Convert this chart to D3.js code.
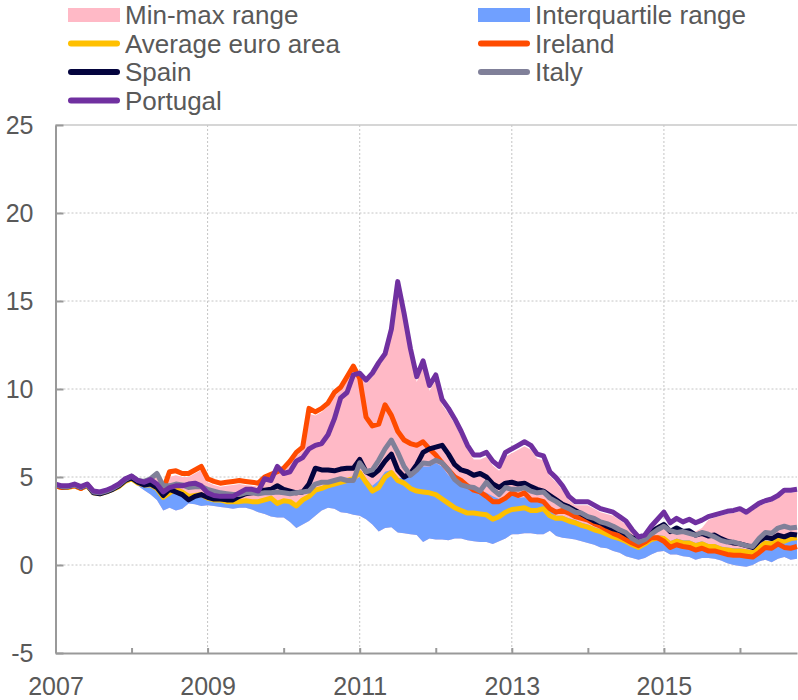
<!DOCTYPE html>
<html lang="en">
<head>
    <meta charset="utf-8">
    <title>Euro area sovereign yields</title>
    <script src="https://d3js.org/d3.v7.min.js"></script>
    <style>
        body { margin: 0; background: #fff; }
        text { font-family: "Liberation Sans", Arial, sans-serif; fill: #595959; }
    </style>
</head>
<body>
<script>
    // monthly observations, Jan 2007 to Oct 2016
    const startYear = 2007;

    const portugal = [
        4.6, 4.5, 4.5, 4.6, 4.45, 4.6, 4.2, 4.15, 4.25, 4.4,
        4.6, 4.9, 5.05, 4.8, 4.7, 4.85, 4.6, 4.15, 4.4, 4.5,
        4.5, 4.6, 4.65, 4.5, 4.1, 3.95, 3.9, 3.9, 3.9, 4.1,
        4.3, 4.3, 4.2, 4.9, 4.8, 5.6, 5.2, 5.3, 5.9, 6.1,
        6.6, 6.8, 6.9, 7.4, 8.3, 9.5, 9.8, 10.8, 10.9, 10.5,
        10.9, 11.5, 12.0, 13.4, 16.1, 14.3, 12.3, 10.7, 11.6, 10.2,
        10.8, 9.4, 8.9, 8.3, 7.6, 6.8, 6.25, 6.25, 6.4, 5.9,
        5.6, 6.4, 6.6, 6.8, 7.0, 6.8, 6.3, 6.2, 5.3, 4.95,
        4.5, 3.9, 3.6, 3.6, 3.6, 3.4, 3.2, 3.1, 3.0, 2.75,
        2.5, 2.0, 1.6, 1.7, 2.2, 2.6, 3.0, 2.4, 2.65, 2.45,
        2.6, 2.4, 2.55, 2.75, 2.85, 2.95, 3.05, 3.1, 3.2, 3.0,
        3.25, 3.5, 3.65, 3.75, 3.95, 4.25, 4.25, 4.3
    ];

    const ireland = [
        4.5, 4.4, 4.45, 4.5, 4.35, 4.55, 4.15, 4.1, 4.2, 4.35,
        4.55, 4.85, 5.0, 4.75, 4.7, 4.8, 4.5, 4.3, 5.3, 5.35,
        5.2, 5.2, 5.4, 5.6, 4.9, 4.75, 4.65, 4.7, 4.75, 4.8,
        4.75, 4.7, 4.65, 5.0, 5.15, 5.3, 5.5, 5.9, 6.4, 6.7,
        8.9, 8.7, 8.9, 9.2, 9.8, 10.1, 10.7, 11.3, 10.6, 8.4,
        7.9, 8.0, 9.1, 8.5, 7.6, 7.1, 6.9, 6.8, 7.0, 6.6,
        6.25, 5.8, 5.4, 5.0, 4.8, 4.5, 4.25, 4.15, 3.9, 3.6,
        3.6, 3.8, 4.1, 3.95, 4.1, 3.7, 3.7, 3.6, 3.2, 3.0,
        3.1, 2.95, 2.75, 2.65, 2.55, 2.35, 2.2, 2.0, 1.8, 1.65,
        1.45, 1.25, 1.1, 1.3, 1.55, 1.55, 1.35, 1.0, 1.15, 1.05,
        1.0, 0.85, 0.95, 0.8, 0.8, 0.7, 0.6, 0.55, 0.55, 0.5,
        0.45, 0.7, 1.0, 0.95, 1.2, 1.0, 0.95, 1.05
    ];

    const spain = [
        4.55, 4.45, 4.45, 4.55, 4.4, 4.55, 4.1, 4.05, 4.15, 4.3,
        4.5, 4.8, 4.95, 4.7, 4.55, 4.6, 4.4, 3.95, 4.3, 4.15,
        4.0, 3.7, 3.9, 4.0, 3.85, 3.75, 3.75, 3.7, 3.7, 3.9,
        4.05, 4.1, 4.25, 4.25, 4.3, 4.5, 4.3, 4.2, 4.1, 4.15,
        4.6, 5.5, 5.4, 5.4, 5.35, 5.45, 5.5, 5.5, 6.0, 5.3,
        5.1, 5.4, 5.9, 6.3, 5.4, 5.0, 5.2, 5.7, 6.4, 6.6,
        6.7, 6.8, 6.3, 5.7, 5.4, 5.3, 5.1, 5.2, 5.0, 4.6,
        4.4, 4.65, 4.7, 4.6, 4.65, 4.45, 4.3, 4.2, 3.95, 3.7,
        3.45, 3.3, 3.1, 2.9, 2.7, 2.5, 2.4, 2.2, 2.05, 1.95,
        1.75, 1.55, 1.45, 1.55, 1.9, 2.1, 2.3, 1.9, 2.1, 1.9,
        1.95, 1.7, 1.8, 1.65, 1.7, 1.5, 1.35, 1.25, 1.2, 1.1,
        1.0, 1.35, 1.6, 1.5, 1.7, 1.6, 1.75, 1.7
    ];

    const italy = [
        4.55, 4.45, 4.45, 4.55, 4.4, 4.55, 4.15, 4.1, 4.2, 4.35,
        4.55, 4.85, 5.05, 4.8, 4.75, 4.9, 5.2, 4.5, 4.5, 4.6,
        4.55, 4.4, 4.45, 4.45, 4.3, 4.2, 4.1, 4.05, 4.0, 4.0,
        4.1, 4.1, 4.05, 4.1, 4.1, 4.15, 4.1, 4.05, 4.1, 4.15,
        4.2, 4.6, 4.7, 4.7, 4.8, 4.9, 4.8, 4.8, 5.8, 5.3,
        5.4, 5.95, 6.6, 7.1, 6.4, 5.6, 5.1, 5.4, 5.8, 5.75,
        5.95, 5.8, 5.4, 4.85, 4.55, 4.45, 4.4, 4.2, 4.7, 4.3,
        4.0, 4.4, 4.3, 4.3, 4.4, 4.2, 4.1, 4.15, 3.8, 3.6,
        3.35, 3.2, 3.0, 2.95, 2.75, 2.65, 2.45, 2.35, 2.2, 2.0,
        1.85, 1.5, 1.3, 1.45, 1.75, 2.0, 2.2, 1.95, 1.85, 1.9,
        1.8, 1.7, 1.85, 1.75, 1.6, 1.4, 1.3, 1.3, 1.2, 1.1,
        1.05, 1.5, 1.85, 1.8, 2.1, 2.2, 2.1, 2.15
    ];

    const average = [
        4.5, 4.4, 4.4, 4.5, 4.35, 4.5, 4.1, 4.05, 4.15, 4.3,
        4.45, 4.75, 4.9, 4.65, 4.55, 4.55, 4.35, 3.85, 4.1, 4.3,
        4.15, 3.9, 3.95, 4.0, 3.8, 3.7, 3.7, 3.6, 3.6, 3.6,
        3.65, 3.6, 3.6, 3.7, 3.8, 3.5, 3.65, 3.6, 3.35, 3.7,
        3.9, 4.25, 4.35, 4.5, 4.6, 4.7, 4.8, 4.9, 5.25, 4.7,
        4.2, 4.4, 5.0, 5.25, 4.8, 4.65, 4.35, 4.2, 4.15, 4.1,
        4.0, 3.75, 3.5, 3.25, 3.1, 2.95, 2.95, 2.9, 2.85, 2.6,
        2.75, 3.0, 3.15, 3.2, 3.25, 3.1, 3.1, 3.2, 2.8, 2.65,
        2.65, 2.5, 2.4, 2.25, 2.15, 2.0, 1.9, 1.75, 1.6, 1.5,
        1.35, 1.15, 1.0, 1.2, 1.45, 1.55, 1.5, 1.2, 1.35, 1.25,
        1.25, 1.1, 1.2, 1.05, 1.05, 0.9, 0.85, 0.8, 0.8, 0.75,
        0.7, 0.95, 1.25, 1.2, 1.4, 1.35, 1.5, 1.55
    ];

    // upper edge of the min-max band
    const rangeMax = [
        4.6, 4.5, 4.5, 4.6, 4.45, 4.6, 4.2, 4.15, 4.25, 4.4,
        4.6, 4.9, 5.05, 4.8, 4.75, 4.9, 5.2, 4.5, 5.0, 5.1,
        5.0, 5.0, 5.2, 5.4, 4.7, 4.55, 4.45, 4.5, 4.55, 4.6,
        4.55, 4.5, 4.45, 4.8, 4.9, 5.2, 5.3, 5.7, 6.2, 6.5,
        8.6, 8.5, 8.7, 9.0, 9.6, 9.9, 10.5, 11.1, 10.7, 10.3,
        10.7, 11.3, 11.8, 13.1, 15.7, 14.0, 12.0, 10.4, 11.3, 9.9,
        10.5, 9.1, 8.6, 8.0, 7.3, 6.55, 6.0, 6.0, 6.15, 5.65,
        5.35, 6.15, 6.35, 6.55, 6.75, 6.55, 6.05, 5.95, 5.05, 4.7,
        4.25, 3.7, 3.4, 3.4, 3.4, 3.2, 3.0, 2.9, 2.8, 2.55,
        2.3, 1.8, 1.45, 1.55, 1.9, 2.3, 2.4, 2.0, 2.1, 1.95,
        2.0, 1.9, 2.1, 2.55, 2.7, 2.8, 2.9, 2.95, 3.05, 2.85,
        3.1, 3.35, 3.5, 3.6, 3.8, 4.1, 4.1, 4.15
    ];

    // interquartile band
    const iqrHigh = [
        4.55, 4.45, 4.45, 4.55, 4.4, 4.55, 4.15, 4.1, 4.2, 4.35,
        4.5, 4.8, 4.95, 4.7, 4.6, 4.6, 4.4, 3.9, 4.1, 4.3,
        4.1, 3.85, 3.9, 3.95, 3.75, 3.65, 3.6, 3.55, 3.55, 3.55,
        3.6, 3.55, 3.55, 3.65, 3.75, 3.45, 3.6, 3.55, 3.3, 3.6,
        3.8, 4.1, 4.3, 4.4, 4.55, 4.65, 4.75, 4.85, 5.0, 4.9,
        4.5, 4.8, 5.3, 5.4, 4.9, 5.0, 5.2, 5.4, 5.6, 5.6,
        5.8, 5.6, 5.1, 4.8, 4.6, 4.45, 4.35, 4.2, 4.1, 3.9,
        3.75, 3.9, 4.0, 3.8, 3.85, 3.6, 3.6, 3.5, 3.1, 2.8,
        2.8, 2.65, 2.55, 2.4, 2.3, 2.15, 2.05, 1.9, 1.75, 1.65,
        1.5, 1.3, 1.15, 1.35, 1.6, 1.7, 1.65, 1.35, 1.5, 1.4,
        1.4, 1.25, 1.35, 1.2, 1.2, 1.05, 1.0, 0.95, 0.95, 0.9,
        0.85, 1.1, 1.4, 1.35, 1.55, 1.5, 1.65, 1.7
    ];

    const iqrLow = [
        4.45, 4.35, 4.35, 4.45, 4.3, 4.45, 4.05, 4.0, 4.1, 4.25,
        4.4, 4.7, 4.8, 4.5, 4.25, 4.0, 3.7, 3.1, 3.25, 3.1,
        3.2, 3.5, 3.45, 3.35, 3.4, 3.35, 3.3, 3.25, 3.2, 3.25,
        3.25, 3.15, 3.0, 2.9, 2.75, 2.7, 2.7, 2.45, 2.1, 2.3,
        2.5, 2.8, 3.1, 3.25, 3.2, 3.0, 2.95, 2.85, 2.8, 2.6,
        2.3, 1.9, 2.1, 2.15, 1.85, 1.8, 1.75, 1.7, 1.3, 1.5,
        1.45, 1.45, 1.4, 1.5, 1.5, 1.4, 1.35, 1.3, 1.3, 1.2,
        1.35, 1.5, 1.75, 1.75, 1.8, 1.8, 1.75, 1.75, 1.95, 1.65,
        1.55, 1.5, 1.45, 1.35, 1.25, 1.15, 1.0, 0.95, 0.8, 0.7,
        0.5, 0.4, 0.3, 0.4, 0.6, 0.75, 0.8, 0.6, 0.6, 0.5,
        0.45, 0.3, 0.4, 0.4, 0.35, 0.25, 0.1, 0.0, -0.05, -0.1,
        0.0, 0.2, 0.3, 0.15, 0.35, 0.45, 0.3, 0.35
    ];

    const yTicks = [-5, 0, 5, 10, 15, 20, 25];
    const yearTicks = [2007, 2008, 2009, 2010, 2011, 2012, 2013, 2014, 2015, 2016];
    const yearLabels = [2007, 2009, 2011, 2013, 2015];

    const colors = {
        range: "#ffb9c6",
        iqr: "#70a0ff",
        average: "#ffc000",
        ireland: "#ff4b00",
        spain: "#04043e",
        italy: "#808099",
        portugal: "#7030a0"
    };

    const width = 798, height = 700;
    const plotLeft = 55.5, plotRight = 797, plotTop = 125, plotBottom = 653;

    const svg = d3.select("body").append("svg")
        .attr("width", width)
        .attr("height", height);

    const x = d3.scaleLinear().domain([2007, 2016.75]).range([plotLeft, plotRight]);
    const y = d3.scaleLinear().domain([-5, 25]).range([plotBottom, plotTop]);

    const t = i => startYear + i / 12;

    // grid
    const grid = svg.append("g");
    grid.selectAll(".hgrid")
        .data(yTicks.filter(v => v > -5 && v < 25))
        .enter().append("line")
        .attr("x1", plotLeft).attr("x2", plotRight)
        .attr("y1", d => y(d)).attr("y2", d => y(d))
        .attr("stroke", "#c4c4c4").attr("stroke-width", 1)
        .attr("stroke-dasharray", "2,2");
    grid.selectAll(".vgrid")
        .data(yearLabels.filter(v => v > 2007))
        .enter().append("line")
        .attr("x1", d => x(d)).attr("x2", d => x(d))
        .attr("y1", plotTop).attr("y2", plotBottom)
        .attr("stroke", "#c4c4c4").attr("stroke-width", 1)
        .attr("stroke-dasharray", "2,2");
    grid.append("line")
        .attr("x1", plotLeft).attr("x2", plotRight)
        .attr("y1", y(25)).attr("y2", y(25))
        .attr("stroke", "#c8c8c8").attr("stroke-width", 1.5);

    // bands
    const idx = d3.range(portugal.length);
    svg.append("path")
        .datum(idx)
        .attr("fill", colors.range)
        .attr("d", d3.area()
            .x(i => x(t(i)))
            .y0(i => y(iqrLow[i]))
            .y1(i => y(rangeMax[i])));

    svg.append("path")
        .datum(idx)
        .attr("fill", colors.iqr)
        .attr("d", d3.area()
            .x(i => x(t(i)))
            .y0(i => y(iqrLow[i]))
            .y1(i => y(iqrHigh[i])));

    // lines, drawn back to front
    const series = [
        { values: average, color: colors.average },
        { values: ireland, color: colors.ireland },
        { values: spain, color: colors.spain },
        { values: italy, color: colors.italy },
        { values: portugal, color: colors.portugal }
    ];

    const line = d3.line()
        .x((d, i) => x(t(i)))
        .y(d => y(d));

    svg.selectAll(".series")
        .data(series)
        .enter().append("path")
        .attr("fill", "none")
        .attr("stroke", d => d.color)
        .attr("stroke-width", 5)
        .attr("stroke-linejoin", "round")
        .attr("d", d => line(d.values));

    // axes
    const yAxis = svg.append("g")
        .attr("transform", "translate(" + plotLeft + ",0)")
        .call(d3.axisLeft(y).tickValues(yTicks).tickSizeInner(-8).tickSizeOuter(0).tickPadding(22)
            .tickFormat(d => String(d)));

    const xAxis = svg.append("g")
        .attr("transform", "translate(0," + plotBottom + ")")
        .call(d3.axisBottom(x).tickValues(yearTicks).tickSizeInner(-5).tickSizeOuter(0).tickPadding(24)
            .tickFormat(d => yearLabels.includes(d) ? String(d) : ""));

    [yAxis, xAxis].forEach(a => {
        a.select(".domain").attr("stroke", "#999").attr("stroke-width", 2);
        a.selectAll(".tick line").attr("stroke", "#999").attr("stroke-width", 2);
        a.selectAll(".tick text")
            .style("font-family", "'Liberation Sans', Arial, sans-serif")
            .style("font-size", "25px")
            .attr("fill", "#595959");
    });

    // legend
    const legendItems = [
        { label: "Min-max range", color: colors.range, type: "rect" },
        { label: "Interquartile range", color: colors.iqr, type: "rect" },
        { label: "Average euro area", color: colors.average, type: "line" },
        { label: "Ireland", color: colors.ireland, type: "line" },
        { label: "Spain", color: colors.spain, type: "line" },
        { label: "Italy", color: colors.italy, type: "line" },
        { label: "Portugal", color: colors.portugal, type: "line" }
    ];

    const legend = svg.selectAll(".legend")
        .data(legendItems)
        .enter().append("g")
        .attr("transform", (d, i) => "translate(" + (i % 2 ? 478 : 68) + "," + (15 + Math.floor(i / 2) * 28.5) + ")");

    legend.filter(d => d.type === "rect").append("rect")
        .attr("x", 0).attr("y", -7).attr("width", 52).attr("height", 14)
        .attr("fill", d => d.color);

    legend.filter(d => d.type === "line").append("line")
        .attr("x1", 3).attr("x2", 49).attr("y1", 0).attr("y2", 0)
        .attr("stroke", d => d.color).attr("stroke-width", 6)
        .attr("stroke-linecap", "round");

    legend.append("text")
        .attr("x", 57).attr("y", 0).attr("dy", "0.35em")
        .style("font-size", "26px")
        .text(d => d.label);
</script>
</body>
</html>
